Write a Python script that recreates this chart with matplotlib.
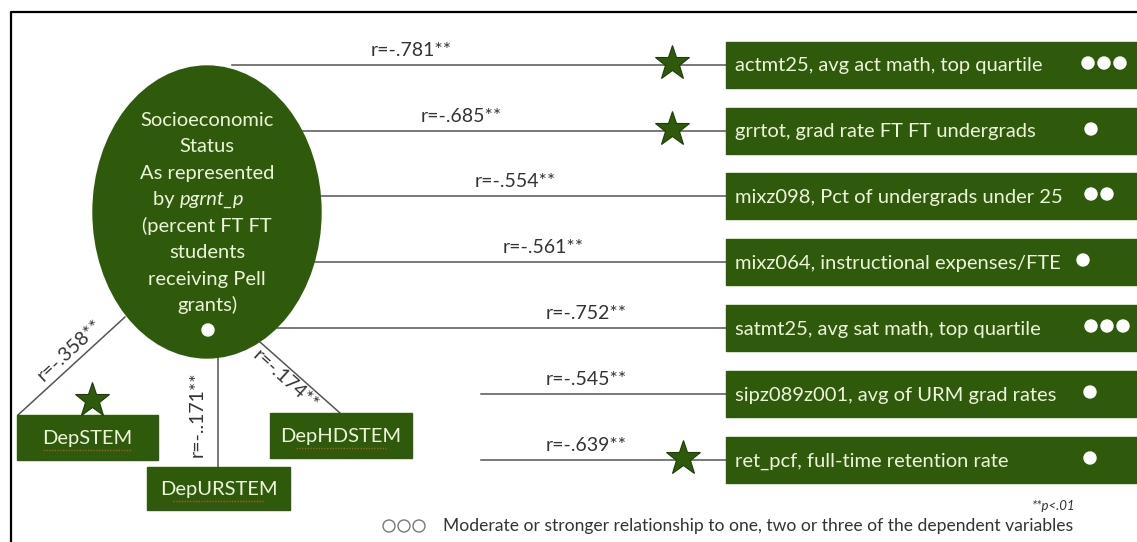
import matplotlib.pyplot as plt
from matplotlib.patches import Ellipse, Rectangle, Circle

# --- data ---
outcome_labels = [
    "actmt25, avg act math, top quartile",
    "grrtot, grad rate FT FT undergrads",
    "mixz098, Pct of undergrads under 25",
    "mixz064, instructional expenses/FTE",
    "satmt25, avg sat math, top quartile",
    "sipz089z001, avg of URM grad rates",
    "ret_pcf, full-time retention rate",
]
outcome_r = ["-.781", "-.685", "-.554", "-.561", "-.752", "-.545", "-.639"]
outcome_dots = [3, 1, 2, 1, 3, 1, 1]
outcome_star = [True, True, False, False, False, False, True]

dep_labels = ["DepSTEM", "DepURSTEM", "DepHDSTEM"]
dep_r = ["-.358", "-..171", "-.174"]
dep_star = [True, False, False]

center_lines = ["Socioeconomic", "Status", "As represented", None,
                "(percent FT FT", "students", "receiving Pell", "grants)"]

# --- layout (pixel coords) ---
GREEN = "#2f5a0b"
TXT = "#eef3dc"
GRAY = "#333333"
FONT = "Lato"
FS = 14.5

fig = plt.figure(figsize=(11.37, 5.42), dpi=100)
ax = fig.add_axes([0, 0, 1, 1])
ax.set_xlim(0, 1137)
ax.set_ylim(542, 0)
ax.axis("off")

# outer frame
ax.plot([11, 11, 1137], [542, 12, 12], color="black", lw=1.6)

box_x0, box_h = 726, 46
box_tops = [42, 108, 173, 239, 305, 371, 437]
line_x0 = [232, 300, 320, 315, 275, 481, 481]
lab_x = [411, 461, 515, 543, 586, 586, 586]
dot_x0 = [1088, 1091, 1091, 1083, 1091, 1090, 1090]
star_x = [672, 672, 683]
star_i = 0
for i, lab in enumerate(outcome_labels):
    top = box_tops[i]
    yc = top + box_h / 2
    ax.add_patch(Rectangle((box_x0, top), 1137 - box_x0, box_h, color=GREEN, zorder=2))
    ax.text(box_x0 + 9, yc + 1, lab, color=TXT, fontsize=FS, family=FONT,
            va="center", ha="left", zorder=3)
    for k in range(outcome_dots[i]):
        ax.add_patch(Circle((dot_x0[i] + 16 * k, yc - 2), 6, color="white", zorder=3))
    ax.plot([line_x0[i], box_x0], [yc, yc], color="#555555", lw=1.1, zorder=1)
    ax.text(lab_x[i], yc - 6, "r=" + outcome_r[i] + "**", color=GRAY, fontsize=14,
            family=FONT, ha="center", va="bottom")
    if outcome_star[i]:
        ax.plot(star_x[star_i], yc - 2, marker="*", markersize=26, color=GREEN,
                markeredgecolor="#1e3d06", markeredgewidth=0.8, zorder=4)
        star_i += 1

# central ellipse
ax.add_patch(Ellipse((207, 212), 228, 292, color=GREEN, zorder=2))
line_y = [121, 147, 174, 200, 226, 252, 279, 305]
for y, s in zip(line_y, center_lines):
    if s is None:
        ax.text(180, y, "by ", color=TXT, fontsize=FS, family=FONT,
                ha="right", va="center", zorder=3)
        ax.text(180, y, "pgrnt_p", color=TXT, fontsize=FS, family=FONT,
                style="italic", ha="left", va="center", zorder=3)
    else:
        ax.text(207, y, s, color=TXT, fontsize=FS, family=FONT,
                ha="center", va="center", zorder=3)
ax.add_patch(Circle((208, 330), 6, color="white", zorder=3))

# dependent variable boxes
dep_boxes = [(17, 415, 141, 45), (147, 467, 143, 43), (270, 413, 142, 45)]
dep_lines = [((125, 317), (18, 415)), ((218, 357), (218, 467)), ((260, 342), (340, 413))]
dep_lab = [((70, 350), 43), ((197, 414), 90), ((285, 380), -42)]
for i, name in enumerate(dep_labels):
    x, y, w, h = dep_boxes[i]
    (x1, y1), (x2, y2) = dep_lines[i]
    ax.plot([x1, x2], [y1, y2], color="#555555", lw=1.1, zorder=1)
    ax.add_patch(Rectangle((x, y), w, h, color=GREEN, zorder=2))
    ax.text(x + w / 2, y + h / 2 + 1, name, color=TXT, fontsize=FS, family=FONT,
            ha="center", va="center", zorder=3)
    ax.plot([x + 26, x + w - 26], [y + h / 2 + 12, y + h / 2 + 12], color="#b5532f",
            lw=1, ls=(0, (1, 1)), zorder=3)
    (lx, ly), rot = dep_lab[i]
    ax.text(lx, ly, "r=" + dep_r[i] + "**", color=GRAY, fontsize=14, family=FONT,
            rotation=rot, rotation_mode="anchor", ha="center", va="center")
    if dep_star[i]:
        ax.plot(92, 400, marker="*", markersize=26, color=GREEN,
                markeredgecolor="#1e3d06", markeredgewidth=0.8, zorder=4)

# footnotes
ax.text(1032, 506, "**p<.01", color=GRAY, fontsize=9.5, family=FONT, style="italic",
        ha="left", va="center")
for k in range(3):
    ax.add_patch(Circle((389 + 15 * k, 526), 6, fill=False, ec="#777777", lw=1))
ax.text(443, 526, "Moderate or stronger relationship to one, two or three of the dependent variables",
        color=GRAY, fontsize=12.6, family=FONT, ha="left", va="center")

fig.savefig("out.png", dpi=100)
